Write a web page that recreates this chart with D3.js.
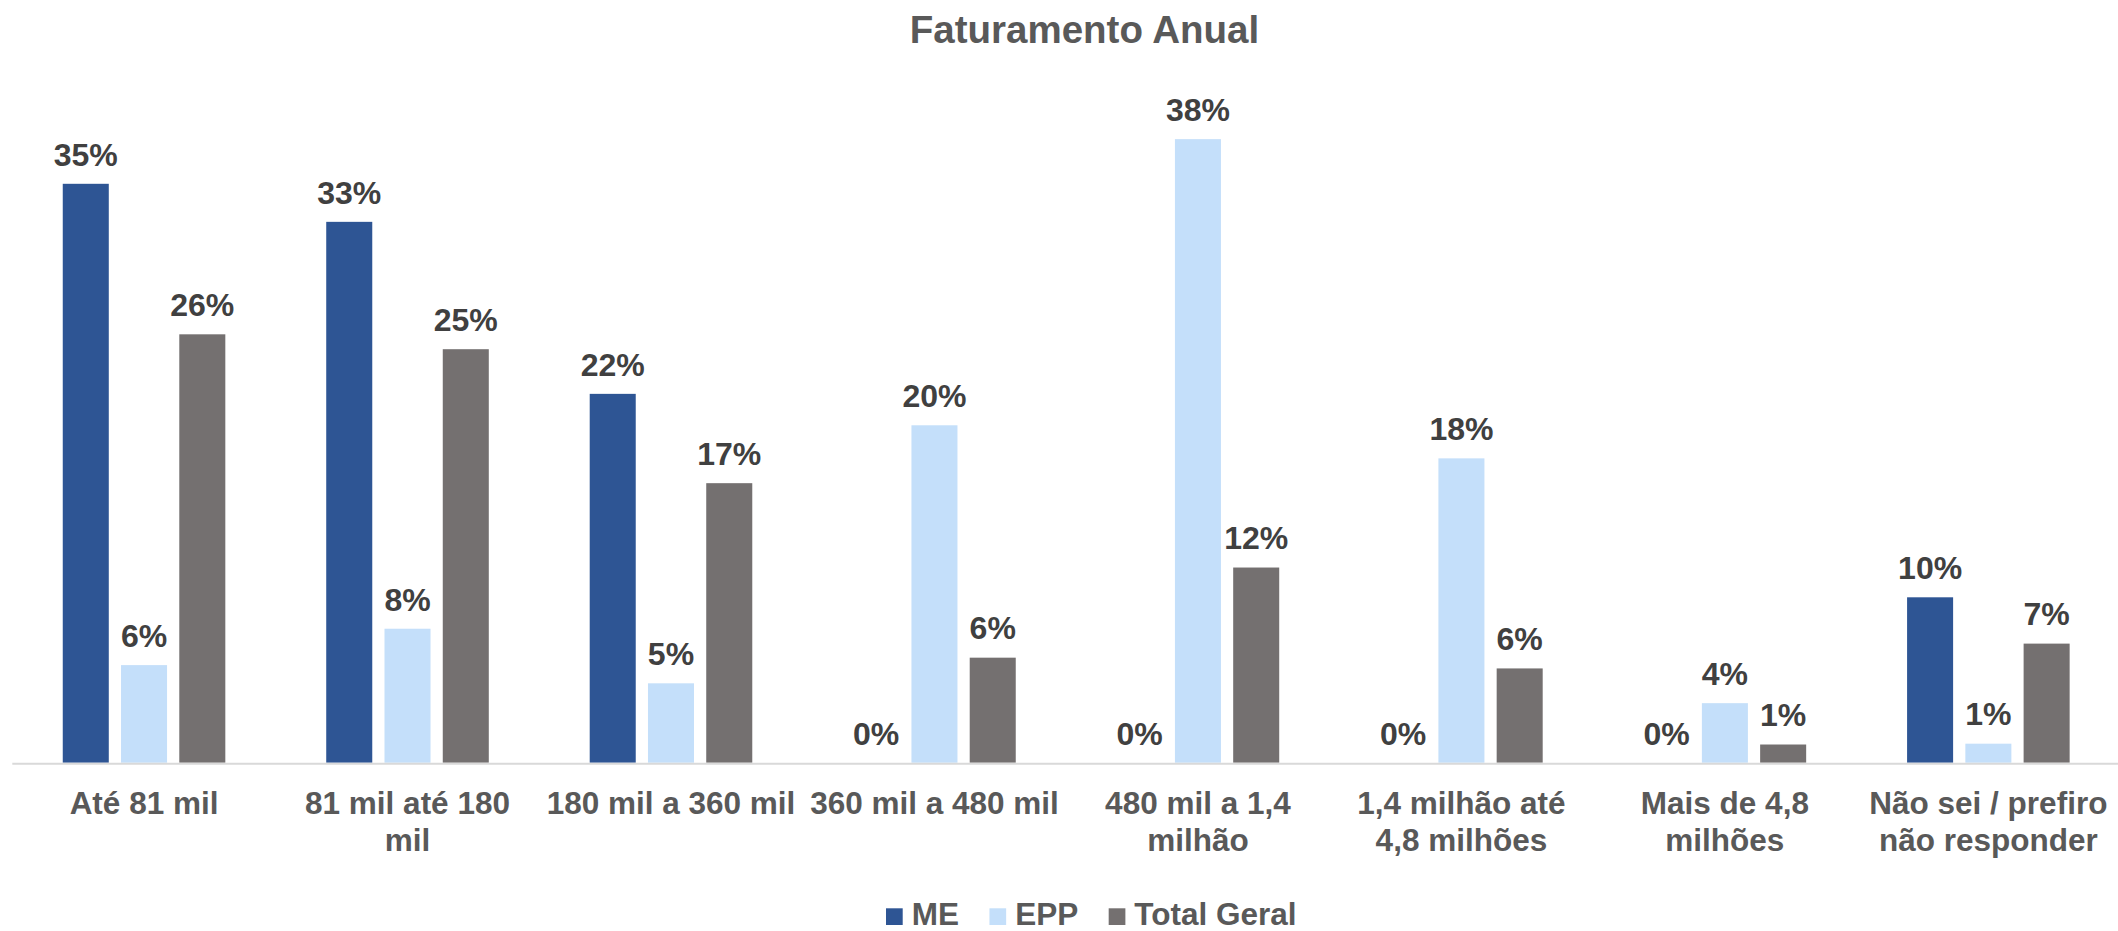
<!DOCTYPE html>
<html>
<head>
<meta charset="utf-8">
<script src="https://cdn.jsdelivr.net/npm/d3@7"></script>
<style>
  html, body { margin: 0; padding: 0; background: #ffffff; }
  svg { display: block; font-family: "Liberation Sans", Arial, sans-serif; }
</style>
</head>
<body>
<svg id="chart" width="2118" height="931"></svg>
<script>
// ---- data ----
const title = "Faturamento Anual";
const categories = [
  "Até 81 mil",
  "81 mil até 180\nmil",
  "180 mil a 360 mil",
  "360 mil a 480 mil",
  "480 mil a 1,4\nmilhão",
  "1,4 milhão até\n4,8 milhões",
  "Mais de 4,8\nmilhões",
  "Não sei / prefiro\nnão responder"
];
const seriesNames = ["ME", "EPP", "Total Geral"];
const meValues    = [0.350, 0.327, 0.223, 0, 0, 0, 0, 0.100];
const eppValues   = [0.059, 0.081, 0.048, 0.204, 0.377, 0.184, 0.036, 0.0115];
const totalValues = [0.259, 0.250, 0.169, 0.0635, 0.118, 0.057, 0.011, 0.072];
const seriesColors = ["#2E5594", "#C4DFFA", "#747070"];

// ---- build table ----
const seriesValues = [meValues, eppValues, totalValues];
const rows = categories.map((c, i) => ({
  cat: c,
  vals: seriesNames.map((s, j) => ({ series: s, value: seriesValues[j][i] }))
}));

const svg = d3.select("#chart");
const baseY = 762.7;

const x0 = d3.scaleBand().domain(categories).range([12.3, 2120.1]).padding(0);
const groupW = x0.step() * 0.617;
const x1 = d3.scaleBand().domain(seriesNames).range([0, groupW]).paddingInner(0.21).paddingOuter(0);
const y = d3.scaleLinear().domain([0, 0.40]).range([baseY, baseY - 661.6]);
const color = d3.scaleOrdinal().domain(seriesNames).range(seriesColors);
const fmt = d3.format(".0%");

// title
svg.append("text")
  .attr("x", 1084.5).attr("y", 42.7)
  .attr("text-anchor", "middle")
  .attr("font-size", 38.5).attr("font-weight", "bold")
  .attr("fill", "#595959")
  .text(title);

// groups
const groups = svg.append("g").selectAll("g")
  .data(rows).join("g")
  .attr("transform", d => `translate(${x0(d.cat) + (x0.bandwidth() - groupW) / 2},0)`);

groups.selectAll("rect")
  .data(d => d.vals).join("rect")
  .attr("x", d => x1(d.series))
  .attr("width", x1.bandwidth())
  .attr("y", d => y(d.value))
  .attr("height", d => baseY - y(d.value))
  .attr("fill", d => color(d.series));

groups.selectAll("text.lbl")
  .data(d => d.vals).join("text")
  .attr("class", "lbl")
  .attr("x", d => x1(d.series) + x1.bandwidth() / 2)
  .attr("y", d => y(d.value) - 18.2)
  .attr("text-anchor", "middle")
  .attr("font-size", 32).attr("font-weight", "bold")
  .attr("fill", "#404040")
  .text(d => fmt(d.value));

// axis line
svg.append("line")
  .attr("x1", 12.3).attr("x2", 2118)
  .attr("y1", baseY + 1).attr("y2", baseY + 1)
  .attr("stroke", "#D9D9D9").attr("stroke-width", 2);

// category labels
const catText = svg.append("g").selectAll("text")
  .data(categories).join("text")
  .attr("x", d => x0(d) + x0.bandwidth() / 2)
  .attr("y", 814.3)
  .attr("text-anchor", "middle")
  .attr("font-size", 31.5).attr("font-weight", "bold")
  .attr("fill", "#595959");
catText.selectAll("tspan")
  .data(d => d.split("\n")).join("tspan")
  .attr("x", function() { return d3.select(this.parentNode).attr("x"); })
  .attr("dy", (d, i) => i === 0 ? 0 : 36.7)
  .text(d => d);

// legend
const legend = svg.append("g");
let lx = 0;
seriesNames.forEach((s, i) => {
  const g = legend.append("g");
  g.append("rect").attr("x", 0).attr("y", -16.7).attr("width", 16.7).attr("height", 16.7).attr("fill", color(s));
  const t = g.append("text").attr("x", 25.7).attr("y", 0)
    .attr("font-size", 31.5).attr("font-weight", "bold").attr("fill", "#595959").text(s);
  const w = 25.7 + t.node().getComputedTextLength();
  g.attr("transform", `translate(${lx},925)`);
  lx += w + 30.5;
});
const totalW = lx - 30.5;
legend.attr("transform", `translate(${1091.3 - totalW / 2},0)`);
</script>
</body>
</html>
